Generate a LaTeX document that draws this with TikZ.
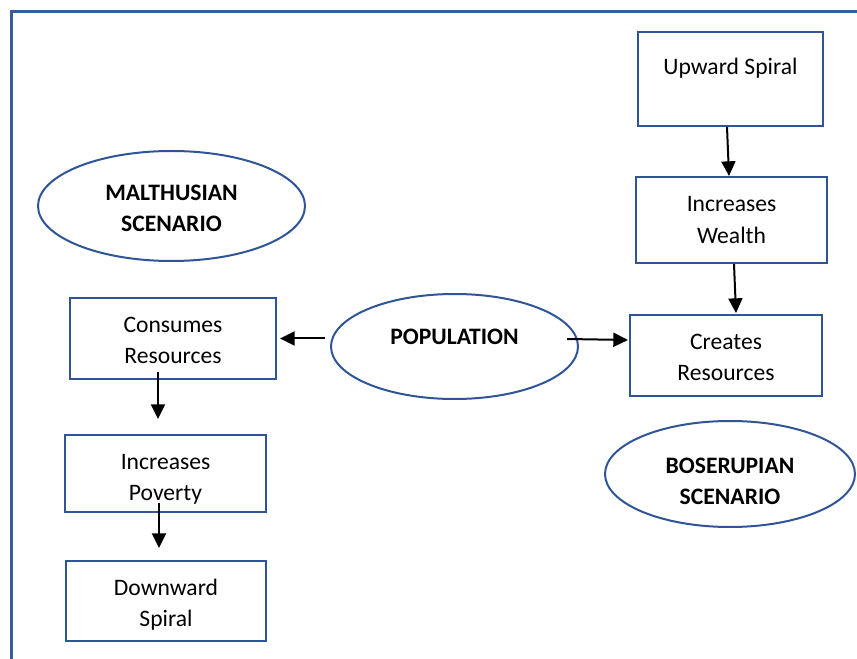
\documentclass[tikz,border=0pt]{standalone}
\usepackage{fontspec}
\setmainfont{Carlito}
\usetikzlibrary{shapes,arrows.meta,positioning,calc}
\definecolor{boxblue}{RGB}{47,85,151}
\definecolor{frameblue}{RGB}{59,92,156}

\begin{document}
\begin{tikzpicture}[x=0.75pt,y=-0.75pt,
    every node/.style={font=\fontsize{17.7}{23.3}\selectfont},
    box/.style={draw=boxblue,line width=1.5pt,rectangle,align=center,inner sep=0pt},
    oval/.style={draw=boxblue,line width=1.5pt,ellipse,align=center,inner sep=0pt,font=\fontsize{17.7}{23.3}\selectfont\bfseries},
    arr/.style={line width=1.5pt,-{Triangle[length=11pt,width=10.5pt]}}]
    \useasboundingbox (0,0) rectangle (857,659);
    % page frame
    \draw [frameblue, line width=2.25pt] (857,11.5) -- (11.5,11.5) -- (11.5,659);

    % boserupian side
    \node [box, minimum width=138.75pt, minimum height=70.5pt, text depth=18.5pt] (up) at (730.5,79) {Upward Spiral};
    \node [box, minimum width=143.25pt, minimum height=64.5pt] (wealth) at (731.5,220) {Increases\\Wealth};
    \node [box, minimum width=144pt, minimum height=60.75pt] (cre) at (726,355.5) {\rule{0pt}{14pt}Creates\\Resources};
    \node [oval, minimum width=187.5pt, minimum height=79.5pt] (boserup) at (730,474) {\rule{0pt}{22pt}BOSERUPIAN\\SCENARIO};

    % centre
    \node [oval, minimum width=185.25pt, minimum height=78.75pt, text depth=15pt] (pop) at (454.5,346.5) {POPULATION};

    % malthusian side
    \node [oval, minimum width=200.25pt, minimum height=82.5pt] (malthus) at (171.5,206) {\rule{0pt}{15pt}MALTHUSIAN\\SCENARIO};
    \node [box, minimum width=154.5pt, minimum height=60.75pt] (cons) at (173,338.5) {\rule{0pt}{14pt}Consumes\\Resources};
    \node [box, minimum width=150.75pt, minimum height=57.75pt] (pov) at (165.5,473.5) {\rule{0pt}{20pt}Increases\\Poverty};
    \node [box, minimum width=150pt, minimum height=60pt] (down) at (166,601) {\rule{0pt}{17.5pt}Downward\\Spiral};

    \draw [arr] ($(up.south)+(-3.5,0)$) -- ($(wealth.north)+(-2.5,0)$);
    \draw [arr] ($(wealth.south)+(2.5,0)$) -- ($(cre.north)+(10,-1)$);
    \draw [arr, shorten <=3.75pt, shorten >=2.25pt] (pop.west |- cons.east) -- (cons.east);
    \draw [arr] ($(pop.east)+(-12,-7.5)$) -- ($(cre.west)+(-1,-15.5)$);
    \draw [arr] ($(cons.south)+(-15,-8)$) -- ($(pov.north)+(-7.5,-15)$);
    \draw [arr] ($(pov.south)+(-6.5,-10)$) -- ($(down.north)+(-7,-12)$);
  \end{tikzpicture}
\end{document}
